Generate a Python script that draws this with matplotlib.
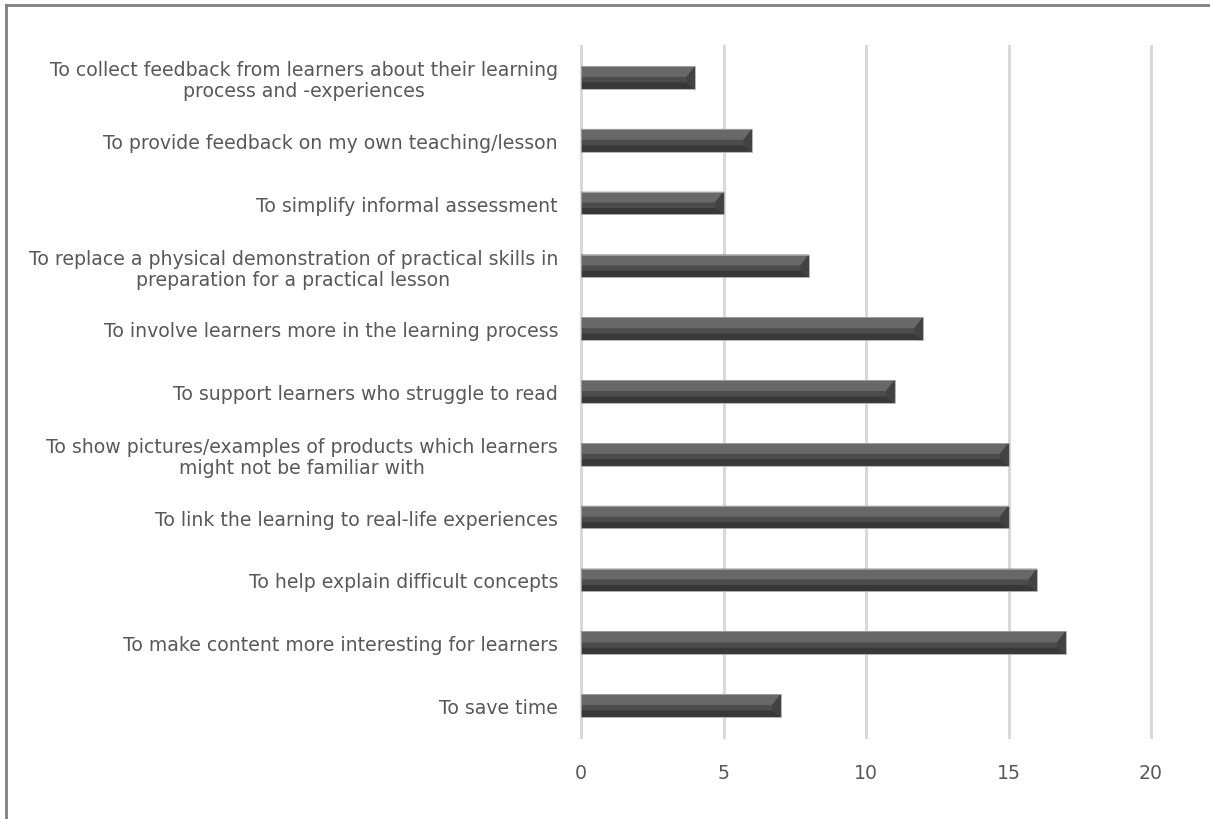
import matplotlib
matplotlib.use("Agg")
import matplotlib.pyplot as plt
from matplotlib.patches import Polygon
from matplotlib.lines import Line2D

categories = [
    "To save time",
    "To make content more interesting for learners",
    "To help explain difficult concepts",
    "To link the learning to real-life experiences",
    "To show pictures/examples of products which learners\nmight not be familiar with",
    "To support learners who struggle to read",
    "To involve learners more in the learning process",
    "To replace a physical demonstration of practical skills in\npreparation for a practical lesson",
    "To simplify informal assessment",
    "To provide feedback on my own teaching/lesson",
    "To collect feedback from learners about their learning\nprocess and -experiences",
]
values = [7, 17, 16, 15, 15, 11, 12, 8, 5, 6, 4]
xticks = [0, 5, 10, 15, 20]

plt.rcParams['font.family'] = ['DejaVu Sans']
TXT = '#595959'
FS = 13.6

fig = plt.figure(figsize=(12.1, 8.2), dpi=100)
ax = fig.add_axes([581/1210, 1-738/820, 570/1210, 691/820])

h = 0.36
ypos = list(range(len(categories)))
ax.barh(ypos, values, height=h, color='#4c4c4c', edgecolor='none', zorder=3)

# bevel faces
dx = 0.3
for y, v in zip(ypos, values):
    top, bot = y + h/2, y - h/2
    dyt, dyb = 0.48*h, 0.28*h
    ax.add_patch(Polygon([(0, top), (v, top), (v-dx, top-dyt), (0, top-dyt)],
                         closed=True, facecolor='#686868', edgecolor='none', zorder=4))
    ax.add_patch(Polygon([(0, bot), (v, bot), (v-dx, bot+dyb), (0, bot+dyb)],
                         closed=True, facecolor='#383838', edgecolor='none', zorder=4))
    ax.add_patch(Polygon([(v, top), (v, bot), (v-dx, bot+dyb), (v-dx, top-dyt)],
                         closed=True, facecolor='#424242', edgecolor='none', zorder=4))
    ax.add_patch(Polygon([(0, top), (v, top), (v, bot), (0, bot)],
                         closed=True, facecolor='none', edgecolor='#a8a8a8', linewidth=0.6, zorder=5))

ax.set_xlim(0, 20)
ax.set_ylim(-0.5, len(categories) - 0.5)
ax.set_xticks(xticks)
ax.set_xticklabels([str(t) for t in xticks], color=TXT, fontsize=FS)
ax.set_yticks(ypos)
ax.set_yticklabels(categories, color=TXT, fontsize=FS, multialignment='center', linespacing=1.12)
ax.tick_params(axis='both', length=0)
ax.tick_params(axis='y', pad=16.5)
ax.tick_params(axis='x', pad=19)
for s in ax.spines.values():
    s.set_visible(False)
ax.grid(axis='x', color='#d9d9d9', linewidth=2.2, zorder=0)
ax.set_axisbelow(True)
for gl in ax.get_xgridlines():
    gl.set_clip_on(False)

# figure border (top and left)
fig.add_artist(Line2D([5.5/1210, 1], [1-5.5/820, 1-5.5/820], transform=fig.transFigure, color='#7f7f7f', linewidth=2))
fig.add_artist(Line2D([5.5/1210, 5.5/1210], [0, 1-5.5/820], transform=fig.transFigure, color='#7f7f7f', linewidth=2))

fig.savefig('out.png', dpi=100)
